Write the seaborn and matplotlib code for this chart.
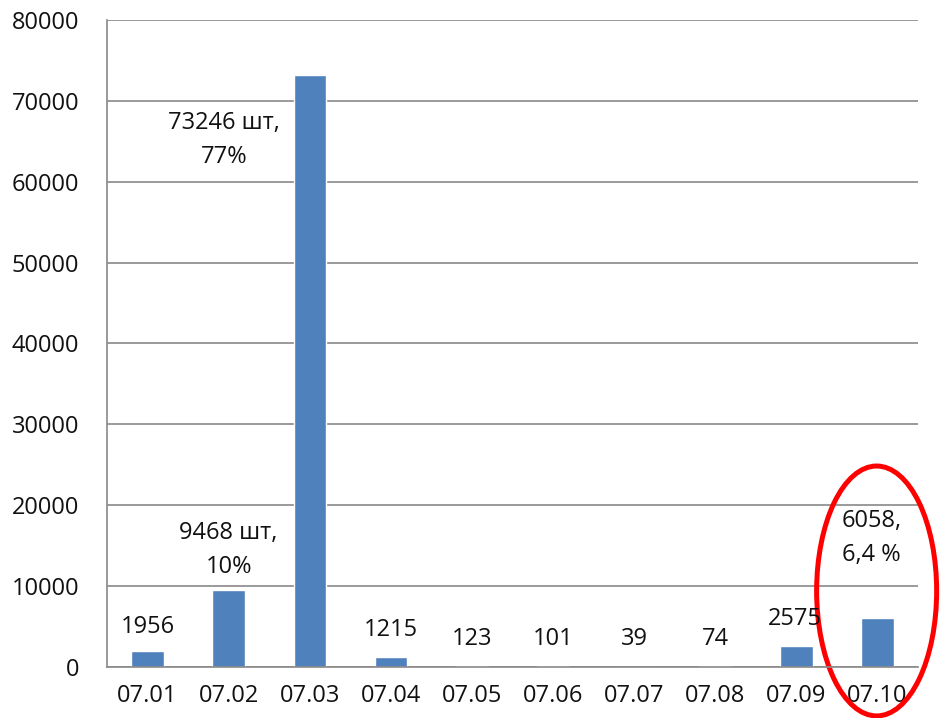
import matplotlib
matplotlib.use('Agg')
import matplotlib.pyplot as plt
from matplotlib.patches import Ellipse
from matplotlib.ticker import MultipleLocator, FixedLocator
import seaborn as sns

sns.set_style('white')
plt.rcParams['font.family'] = ['Open Sans', 'DejaVu Sans']

# ---- data ----
dates = ['07.01', '07.02', '07.03', '07.04', '07.05',
         '07.06', '07.07', '07.08', '07.09', '07.10']
counts = [1956, 9468, 73246, 1215, 123, 101, 39, 74, 2575, 6058]
labels = ['1956', '9468 шт,\n10%', '73246 шт,\n77%', '1215', '123',
          '101', '39', '74', '2575', '6058,\n6,4 %']
# label anchor (x index, y value), as placed on the original chart
label_x = [0, 1, 0.94, 3, 4, 5, 6, 7, 7.98, 8.93]
label_y = [4950, 14470, 65160, 4580, 3460, 3460, 3460, 3460, 5930, 15950]

BAR = '#4F81BD'
GRID = '#898989'
FS = 17

fig = plt.figure(figsize=(9.42, 7.18), dpi=100)
ax = fig.add_axes([107 / 942, 51 / 718, 811 / 942, 647 / 718])

sns.barplot(x=dates, y=counts, color=BAR, width=0.4, saturation=1, ax=ax)

ax.set_xlim(-0.5, len(dates) - 0.5)
ax.set_ylim(0, 80000)
ax.yaxis.set_major_locator(MultipleLocator(10000))
ax.grid(axis='y', color=GRID, linewidth=1.2)
ax.set_axisbelow(True)

for s in ['top', 'right']:
    ax.spines[s].set_visible(False)
for s in ['left', 'bottom']:
    ax.spines[s].set_color(GRID)
    ax.spines[s].set_linewidth(1.2)

ax.tick_params(axis='y', length=7, color=GRID, width=1.2, pad=13,
               labelsize=FS, labelcolor='#111111')
ax.tick_params(axis='x', which='major', length=0, pad=12,
               labelsize=FS, labelcolor='#111111')
ax.xaxis.set_minor_locator(FixedLocator([i - 0.5 for i in range(len(dates) + 1)]))
ax.tick_params(axis='x', which='minor', length=8, color=GRID, width=1.2)
ax.set_xlabel('')
ax.set_ylabel('')

for x, y, t in zip(label_x, label_y, labels):
    ax.text(x, y, t, ha='center', va='center', fontsize=FS, color='#111111',
            linespacing=1.55)

ax.add_patch(Ellipse((8.99, 9400), width=1.48, height=30900, fill=False,
                     edgecolor='#FF0000', linewidth=3.6, clip_on=False))

plt.savefig('out.png', dpi=100)
plt.close()
